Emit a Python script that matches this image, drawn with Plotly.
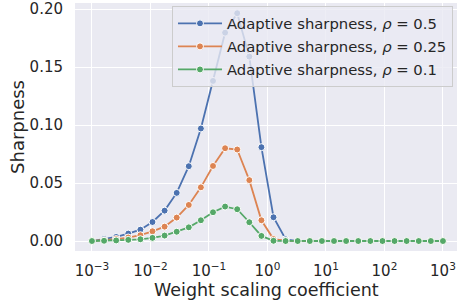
import numpy as np
import plotly.graph_objects as go

x_exponents_start, x_exponents_end, n_points = -3, 3, 30
weight_scale = np.logspace(x_exponents_start, x_exponents_end, n_points)

sharp_rho_05 = [0.0, 0.0017, 0.0035, 0.0064, 0.0098, 0.0164, 0.0262, 0.0415, 0.0645, 0.097,
                0.138, 0.1796, 0.1964, 0.159, 0.0809, 0.0205, 0.0015, 0.0, 0.0, 0.0,
                0.0, 0.0, 0.0, 0.0, 0.0, 0.0, 0.0, 0.0, 0.0, 0.0]
sharp_rho_025 = [0.0, 0.0006, 0.0017, 0.003, 0.005, 0.0084, 0.0124, 0.0202, 0.0311, 0.0463,
                 0.0647, 0.080, 0.0789, 0.0525, 0.0179, 0.0017, 0.0003, 0.0, 0.0, 0.0,
                 0.0, 0.0, 0.0, 0.0, 0.0, 0.0, 0.0, 0.0, 0.0, 0.0]
sharp_rho_01 = [0.0, 0.0002, 0.0005, 0.001, 0.0015, 0.0027, 0.0047, 0.008, 0.0118, 0.0179,
                0.0248, 0.0297, 0.0274, 0.0162, 0.0044, 0.0002, 0.0, 0.0, 0.0, 0.0,
                0.0, 0.0, 0.0, 0.0, 0.0, 0.0, 0.0, 0.0, 0.0, 0.0]

series_names = ["Adaptive sharpness, <i>ρ</i> = 0.5",
                "Adaptive sharpness, <i>ρ</i> = 0.25",
                "Adaptive sharpness, <i>ρ</i> = 0.1"]
series_colors = ["#4c72b0", "#dd8452", "#55a868"]

x_tick_vals = [1e-3, 1e-2, 1e-1, 1e0, 1e1, 1e2, 1e3]
x_tick_text = ["10<sup>−3</sup>", "10<sup>−2</sup>", "10<sup>−1</sup>", "10<sup>0</sup>",
               "10<sup>1</sup>", "10<sup>2</sup>", "10<sup>3</sup>"]
y_tick_vals = [0.0, 0.05, 0.10, 0.15, 0.20]
y_tick_text = ["0.00", "0.05", "0.10", "0.15", "0.20"]
x_title = "Weight scaling coefficient"
y_title = "Sharpness"

fig = go.Figure()
for i, (ys, name, col) in enumerate(zip([sharp_rho_05, sharp_rho_025, sharp_rho_01],
                                        series_names, series_colors)):
    fig.add_trace(go.Scatter(
        x=weight_scale, y=ys, mode="lines+markers", name=name, legendgroup=f"g{i}",
        line=dict(color=col, width=1.8),
        marker=dict(color=col, size=7, line=dict(color="white", width=1)),
    ))

font_family = "DejaVu Sans"
fig.update_layout(
    width=457, height=301,
    margin=dict(l=75, r=0, t=3, b=50),
    plot_bgcolor="#eaeaf2", paper_bgcolor="white",
    font=dict(family=font_family, color="#262626", size=15),
    showlegend=True,
    legend=dict(
        x=0.9895, xanchor="right", y=0.987, yanchor="top",
        bgcolor="rgba(234,234,242,0.8)", bordercolor="#cccccc", borderwidth=1,
        font=dict(size=14.8, color="#262626"),
        tracegroupgap=0.8, itemwidth=44,
    ),
    annotations=[
        dict(text=x_title, xref="paper", yref="paper", x=0.5, y=-0.157,
             xanchor="center", yanchor="middle", showarrow=False,
             font=dict(size=17.5, color="#262626")),
        dict(text=y_title, xref="paper", yref="paper", x=-0.152, y=0.5,
             xanchor="center", yanchor="middle", showarrow=False, textangle=-90,
             font=dict(size=18, color="#262626")),
    ],
)
fig.update_xaxes(
    type="log", range=[-3.29, 3.24], automargin=False,
    tickvals=x_tick_vals, ticktext=x_tick_text,
    showgrid=True, gridcolor="white", gridwidth=1, zeroline=False,
    showline=False, ticks="outside", ticklen=6, tickcolor="rgba(0,0,0,0)",
    tickfont=dict(size=15),
)
fig.update_yaxes(
    range=[-0.0086, 0.2052], automargin=False,
    tickvals=y_tick_vals, ticktext=y_tick_text,
    showgrid=True, gridcolor="white", gridwidth=1, zeroline=False,
    showline=False, ticks="outside", ticklen=8, tickcolor="rgba(0,0,0,0)",
    tickfont=dict(size=15),
)
fig.write_html("out.html", config={"displayModeBar": False},
               post_script="document.body.style.margin='0';")
